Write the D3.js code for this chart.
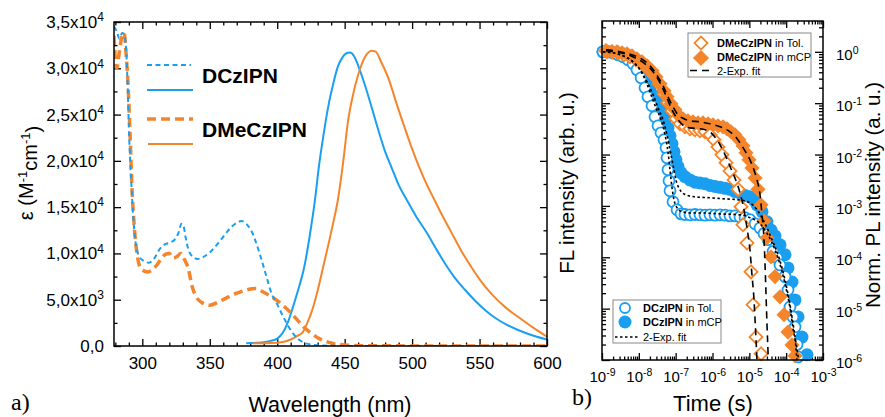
<!DOCTYPE html>
<html>
<head>
<meta charset="utf-8">
<script src="https://cdn.jsdelivr.net/npm/d3@7"></script>
<style>
  body { margin: 0; background: #fff; }
  svg { display: block; font-family: "Liberation Sans", Arial, sans-serif; }
</style>
</head>
<body>
<div id="chart"></div>
<script>
// ---------- panel a) : absorption (dashed) and emission (solid), [wavelength nm, epsilon]
const absDCz = [[279,34500],[281,34000],[283,33200],[285,33800],[286.5,33700],[288,32000],[289,28700],[290,23600],[291.5,18500],[292.5,15800],[294,12500],[296,10400],[298,9600],[301,9200],[305,9000],[309,9500],[313,10500],[317,11000],[321,11200],[324,11500],[327,12300],[329,13200],[330.5,13000],[332,11800],[334,10500],[337,9700],[341,9400],[345,9600],[350,10100],[355,10900],[360,11800],[365,12700],[370,13300],[373.5,13500],[377,13200],[381,12400],[384,11300],[388,9500],[392,7500],[396,5600],[400,4500],[404,3300],[408,2200],[412,1300],[416,700],[420,350],[425,150],[432,50],[450,10],[600,0]];
const absDMe = [[279,33500],[280,31000],[281,30000],[283,31800],[285,33500],[286.5,33800],[288,31500],[289.5,28000],[291,22500],[292.5,16500],[294,13000],[296,10000],[298,8600],[300,8200],[304,8000],[308,8300],[311,8800],[314,9400],[317,9900],[320,10000],[323,9500],[326,9700],[328.5,10000],[331,9400],[334,8400],[337,6400],[340,5300],[344,4700],[350,4400],[357,4800],[364,5300],[370,5700],[376,6000],[384,6200],[390,5800],[395,5400],[400,4900],[405,4300],[410,3600],[415,2800],[420,2000],[425,1400],[430,900],[435,550],[440,320],[447,150],[455,60],[470,20],[600,0]];
const emDCz = [[377,300],[385,350],[390,400],[395,550],[400,800],[404,1400],[408,2600],[411,3900],[415,5800],[420,8500],[424,11800],[428,15800],[431,19500],[434,22500],[438,26000],[441.5,28300],[445,30200],[448,31100],[451,31600],[454,31700],[457,31300],[460,30300],[465,28200],[470,25800],[475,23300],[480,21000],[485,19200],[490,17400],[496,15800],[503,14000],[511,12200],[517,10700],[524,9000],[531,7500],[539,6100],[546,5000],[554,3900],[562,3000],[570,2300],[579,1700],[590,1100],[600,700]];
const emDMe = [[382,300],[390,300],[400,350],[405,450],[410,700],[415,1100],[419,1500],[422,2400],[426,3900],[430,6000],[434,8500],[438,11000],[441.5,13300],[445,15800],[449,20000],[452.6,24400],[456,27000],[460,29300],[465,31200],[470,31900],[473,31800],[477,30700],[483,28700],[488,26400],[494,23800],[500,21300],[505,19400],[511,17400],[516.5,15800],[522,14200],[529,12300],[536,10400],[544,8500],[551,7000],[559,5600],[569,4200],[579,3100],[590,1950],[600,1000]];
const wlMajor = [300,350,400,450,500,550,600];
const epsMajor = [0,5000,10000,15000,20000,25000,30000,35000];

// ---------- panel b) : transient PL, [time s, norm. intensity]
const dczTol = [[1.06e-9,1.0],[1.46e-9,1.0],[1.99e-9,0.956],[2.72e-9,0.874],[3.72e-9,0.799],[5.08e-9,0.699],[6.95e-9,0.584],[8.92e-9,0.446],[1.15e-8,0.312],[1.47e-8,0.199],[1.77e-8,0.133],[2.28e-8,0.0889],[2.75e-8,0.0543],[3.32e-8,0.0362],[4.0e-8,0.0265],[4.82e-8,0.0194],[5.47e-8,0.0135],[5.82e-8,0.00864],[6.19e-8,0.00504],[6.59e-8,0.00308],[7.02e-8,0.00197],[8.47e-8,0.0012],[1.09e-7,0.00084],[1.4e-7,0.0007],[1.79e-7,0.00068],[2.45e-7,0.00067],[3.35e-7,0.00068],[4.58e-7,0.00067],[6.26e-7,0.00066],[8.56e-7,0.00067],[1.17e-6,0.00066],[1.6e-6,0.00067],[2.19e-6,0.00066],[2.99e-6,0.00064],[4.08e-6,0.00064],[5.58e-6,0.00061],[7.63e-6,0.00059],[1.04e-5,0.00054],[1.43e-5,0.00045],[1.95e-5,0.00037],[2.5e-5,0.00029],[3.22e-5,0.00022],[4.4e-5,0.00013],[5.65e-5,9.8e-5],[6.81e-5,7.1e-5],[9.31e-5,4.2e-5],[1.12e-4,2.3e-5],[1.27e-4,1.08e-5],[1.53e-4,6.9e-6],[1.74e-4,4.4e-6],[1.97e-4,2.0e-6],[2.1e-4,1.15e-6]];
const dczMcp = [[1.06e-9,1.0],[1.46e-9,1.0],[1.99e-9,0.956],[2.72e-9,0.914],[3.72e-9,0.836],[5.08e-9,0.764],[6.95e-9,0.668],[9.49e-9,0.534],[1.22e-8,0.408],[1.57e-8,0.285],[2.01e-8,0.199],[2.58e-8,0.139],[3.32e-8,0.0972],[4.26e-8,0.0679],[5.14e-8,0.0474],[6.19e-8,0.0331],[7.02e-8,0.0231],[7.96e-8,0.0162],[9.02e-8,0.0113],[1.02e-7,0.0079],[1.16e-7,0.0058],[1.4e-7,0.0044],[1.79e-7,0.0037],[2.45e-7,0.0032],[3.35e-7,0.0029],[4.58e-7,0.0028],[6.26e-7,0.0027],[8.56e-7,0.0025],[1.17e-6,0.0024],[1.6e-6,0.0023],[2.19e-6,0.0022],[2.99e-6,0.0021],[4.08e-6,0.0019],[5.58e-6,0.0018],[7.63e-6,0.0016],[1.04e-5,0.0015],[1.34e-5,0.0013],[1.62e-5,0.00105],[2.21e-5,0.00077],[3.02e-5,0.00049],[3.88e-5,0.00034],[4.98e-5,0.00026],[6.81e-5,0.000175],[9.31e-5,0.000112],[1.12e-4,6.2e-5],[1.44e-4,3.3e-5],[1.74e-4,1.48e-5],[2.1e-4,6.9e-6],[2.69e-4,2.8e-6],[3.68e-4,1.26e-6]];
const dmeTol = [[1.28e-9,1.05],[1.87e-9,1.0],[2.72e-9,0.956],[3.96e-9,0.874],[5.75e-9,0.799],[8.38e-9,0.699],[1.22e-8,0.584],[1.77e-8,0.467],[2.58e-8,0.341],[3.53e-8,0.238],[4.82e-8,0.152],[6.19e-8,0.102],[7.96e-8,0.071],[1.02e-7,0.0496],[1.31e-7,0.0397],[1.79e-7,0.0347],[2.45e-7,0.0317],[3.35e-7,0.0303],[4.58e-7,0.029],[6.26e-7,0.0277],[8.56e-7,0.0242],[1.1e-6,0.0194],[1.41e-6,0.0141],[1.81e-6,0.0099],[2.33e-6,0.0069],[2.99e-6,0.0048],[3.84e-6,0.0032],[4.93e-6,0.0021],[5.94e-6,0.00096],[6.73e-6,0.00043],[8.65e-6,0.00019],[1.11e-5,5.2e-5],[1.26e-5,1.19e-5],[1.52e-5,2.8e-6],[2.08e-5,1.32e-6]];
const dmeMcp = [[1.37e-9,1.0],[1.87e-9,1.0],[2.55e-9,1.0],[3.49e-9,0.956],[4.77e-9,0.914],[6.53e-9,0.836],[8.92e-9,0.731],[1.22e-8,0.639],[1.67e-8,0.534],[2.28e-8,0.427],[2.92e-8,0.326],[3.76e-8,0.238],[4.82e-8,0.174],[5.82e-8,0.133],[7.47e-8,0.0972],[9.6e-8,0.0743],[1.23e-7,0.0568],[1.58e-7,0.0496],[2.16e-7,0.0454],[2.96e-7,0.0434],[4.04e-7,0.0415],[5.52e-7,0.0413],[7.55e-7,0.0397],[1.03e-6,0.0379],[1.41e-6,0.0362],[1.93e-6,0.0347],[2.48e-6,0.0317],[3.18e-6,0.0277],[4.08e-6,0.0242],[5.25e-6,0.0194],[6.73e-6,0.0148],[8.12e-6,0.0108],[9.8e-6,0.0079],[1.18e-5,0.0055],[1.43e-5,0.0035],[1.72e-5,0.0021],[2.08e-5,0.00105],[2.5e-5,0.00051],[3.02e-5,0.00024],[3.88e-5,0.000102],[4.98e-5,4.2e-5],[6.81e-5,1.7e-5],[8.75e-5,7.6e-6],[1.12e-4,3.5e-6],[1.44e-4,1.97e-6],[1.74e-4,1.21e-6]];
const fitDmeTol = [[1.28e-9,1.05],[2.25e-9,1.0],[4.21e-9,0.914],[7.87e-9,0.764],[1.47e-8,0.584],[2.43e-8,0.408],[3.76e-8,0.249],[5.47e-8,0.139],[7.96e-8,0.0743],[1.16e-7,0.0474],[1.69e-7,0.0362],[2.45e-7,0.0331],[4.58e-7,0.0317],[7.55e-7,0.029],[1.1e-6,0.0231],[1.6e-6,0.0155],[2.33e-6,0.009],[3.18e-6,0.0053],[4.35e-6,0.0031],[5.58e-6,0.0018],[7.17e-6,0.00084],[8.65e-6,0.00037],[1.04e-5,0.00014],[1.18e-5,4.5e-5],[1.34e-5,1.48e-5],[1.43e-5,6.0e-6],[1.52e-5,2.5e-6],[1.62e-5,9e-7]];
const fitDmeMcp = [[1.28e-9,1.09],[2.25e-9,1.05],[4.21e-9,0.956],[7.87e-9,0.836],[1.3e-8,0.699],[2.01e-8,0.534],[3.32e-8,0.326],[4.53e-8,0.218],[6.19e-8,0.133],[8.47e-8,0.0849],[1.16e-7,0.0593],[1.69e-7,0.0496],[2.45e-7,0.0454],[4.58e-7,0.0434],[8.56e-7,0.0397],[1.6e-6,0.0347],[2.99e-6,0.0277],[4.08e-6,0.0231],[5.58e-6,0.0169],[7.63e-6,0.0118],[1.04e-5,0.0079],[1.34e-5,0.005],[1.62e-5,0.0032],[1.95e-5,0.00164],[2.21e-5,0.00067],[2.5e-5,0.00022],[2.67e-5,7.1e-5],[2.84e-5,1.86e-5],[3.02e-5,4.8e-6],[3.22e-5,1.38e-6],[3.3e-5,8e-7]];
const fitDczTol = [[1.06e-9,1.0],[1.99e-9,0.956],[3.72e-9,0.836],[6.95e-9,0.639],[1.08e-8,0.446],[1.57e-8,0.261],[2.14e-8,0.146],[2.92e-8,0.0812],[4.0e-8,0.0474],[5.14e-8,0.0242],[6.19e-8,0.0113],[7.02e-8,0.005],[7.96e-8,0.00225],[9.02e-8,0.00131],[1.09e-7,0.00092],[1.49e-7,0.00077],[2.45e-7,0.00073],[4.58e-7,0.00073],[1.6e-6,0.0007],[5.58e-6,0.00067],[1.04e-5,0.00059],[1.95e-5,0.00045],[3.22e-5,0.00027],[4.98e-5,0.00014],[7.25e-5,6.2e-5],[9.91e-5,2.5e-5],[1.27e-4,1.04e-5],[1.53e-4,4.2e-6],[1.85e-4,1.7e-6],[1.97e-4,9e-7]];
const fitDczMcp = [[1.06e-9,1.0],[1.99e-9,0.956],[3.72e-9,0.836],[6.95e-9,0.639],[1.08e-8,0.446],[1.67e-8,0.261],[2.43e-8,0.146],[3.32e-8,0.0812],[4.53e-8,0.0474],[5.82e-8,0.0242],[7.02e-8,0.0124],[8.47e-8,0.0063],[1.02e-7,0.0032],[1.31e-7,0.00206],[1.91e-7,0.00164],[3.35e-7,0.0015],[8.56e-7,0.00144],[2.19e-6,0.00137],[5.58e-6,0.00131],[1.04e-5,0.00115],[1.62e-5,0.00084],[2.67e-5,0.00045],[4.13e-5,0.00022],[6.4e-5,9.8e-5],[9.31e-5,3.6e-5],[1.27e-4,1.19e-5],[1.63e-4,3.9e-6],[1.97e-4,1.6e-6],[2.23e-4,9e-7]];
const timeDecades = [-9,-8,-7,-6,-5,-4,-3];
const intDecades = [-6,-5,-4,-3,-2,-1,0];

const blue = "#1a9ff0", orange = "#f5852b";

const svg = d3.select("#chart").append("svg")
  .attr("width", 885).attr("height", 417);
svg.append("rect").attr("width", 885).attr("height", 417).attr("fill", "#fff");

// helper: ticks styled like the original (inward, black)
function styleAxis(g, size) {
  g.select(".domain").remove();
  g.selectAll(".tick line").attr("stroke", "#000").attr("stroke-width", 1.3);
  g.attr("font-family", null).attr("font-size", size || 17).attr("fill", "#000");
  g.selectAll("text").attr("fill", "#000");
}
function supLabel(base, exp, supSize) {
  return function() {
    const t = d3.select(this).text(null);
    t.append("tspan").text(base);
    if (exp !== null) t.append("tspan").attr("dy", "-0.55em").attr("font-size", supSize).text(exp);
  };
}

// ================= panel a =================
const xA = d3.scaleLinear().domain([279, 600]).range([114, 547]);
const yA = d3.scaleLinear().domain([0, 35000]).range([346, 22]);
const wlMinor = d3.range(280, 601, 10).filter(v => v % 50 !== 0);
const epsMinor = d3.range(2500, 35000, 5000);

svg.append("g").attr("transform", "translate(0,346)")
  .call(d3.axisBottom(xA).tickValues(wlMajor).tickSize(-7).tickPadding(11).tickFormat(d3.format("d")))
  .call(g => styleAxis(g, 17));
svg.append("g").attr("transform", "translate(0,346)")
  .call(d3.axisBottom(xA).tickValues(wlMinor).tickSize(-3.5).tickFormat(""))
  .call(g => styleAxis(g));
svg.append("g").attr("transform", "translate(0,22)")
  .call(d3.axisTop(xA).tickValues(wlMajor).tickSize(-7).tickFormat(""))
  .call(g => styleAxis(g));
svg.append("g").attr("transform", "translate(0,22)")
  .call(d3.axisTop(xA).tickValues(wlMinor).tickSize(-3.5).tickFormat(""))
  .call(g => styleAxis(g));

svg.append("g").attr("transform", "translate(114,0)")
  .call(d3.axisLeft(yA).tickValues(epsMajor).tickSize(-7).tickPadding(10))
  .call(g => styleAxis(g, 17))
  .call(g => g.selectAll(".tick text").each(function(d) {
    if (d === 0) { d3.select(this).text("0,0"); return; }
    const e = Math.floor(Math.log10(d));
    const m = (d / Math.pow(10, e)).toFixed(1).replace(".", ",");
    supLabel(m + "x10", String(e), 12).call(this);
  }));
svg.append("g").attr("transform", "translate(114,0)")
  .call(d3.axisLeft(yA).tickValues(epsMinor).tickSize(-3.5).tickFormat(""))
  .call(g => styleAxis(g));
svg.append("g").attr("transform", "translate(547,0)")
  .call(d3.axisRight(yA).tickValues(epsMajor).tickSize(-7).tickFormat(""))
  .call(g => styleAxis(g));
svg.append("g").attr("transform", "translate(547,0)")
  .call(d3.axisRight(yA).tickValues(epsMinor).tickSize(-3.5).tickFormat(""))
  .call(g => styleAxis(g));

svg.append("clipPath").attr("id", "clipA").append("rect")
  .attr("x", 114).attr("y", 22).attr("width", 433).attr("height", 324);

const lineA = d3.line().x(d => xA(d[0])).y(d => yA(d[1])).curve(d3.curveMonotoneX);
const gA = svg.append("g").attr("clip-path", "url(#clipA)").attr("fill", "none");
gA.append("path").attr("d", lineA(emDCz)).attr("stroke", blue).attr("stroke-width", 2);
gA.append("path").attr("d", lineA(emDMe)).attr("stroke", orange).attr("stroke-width", 2);
gA.append("path").attr("d", lineA(absDMe)).attr("stroke", orange).attr("stroke-width", 3.5).attr("stroke-dasharray", "9,5");
gA.append("path").attr("d", lineA(absDCz)).attr("stroke", blue).attr("stroke-width", 2).attr("stroke-dasharray", "5,3.5");

svg.append("rect").attr("x", 114).attr("y", 22).attr("width", 433).attr("height", 324)
  .attr("fill", "none").attr("stroke", "#000").attr("stroke-width", 1.5);

// legend a
const legA = svg.append("g");
legA.append("line").attr("x1", 147).attr("x2", 191).attr("y1", 65).attr("y2", 65)
  .attr("stroke", blue).attr("stroke-width", 2).attr("stroke-dasharray", "5,3.5");
legA.append("line").attr("x1", 147).attr("x2", 193).attr("y1", 90).attr("y2", 90)
  .attr("stroke", blue).attr("stroke-width", 2.2);
legA.append("line").attr("x1", 147).attr("x2", 193).attr("y1", 119).attr("y2", 119)
  .attr("stroke", orange).attr("stroke-width", 3.5).attr("stroke-dasharray", "9,5");
legA.append("line").attr("x1", 148).attr("x2", 193).attr("y1", 144).attr("y2", 144)
  .attr("stroke", orange).attr("stroke-width", 2.2);
legA.append("text").attr("x", 202).attr("y", 83).attr("font-size", 21).attr("font-weight", "bold").text("DCzIPN");
legA.append("text").attr("x", 202).attr("y", 137).attr("font-size", 21).attr("font-weight", "bold").text("DMeCzIPN");

// titles a
const epsTitle = svg.append("text").attr("transform", "translate(33,173) rotate(-90)")
  .attr("text-anchor", "middle").attr("font-size", 20);
epsTitle.append("tspan").text("ε (M");
epsTitle.append("tspan").attr("dy", "-0.5em").attr("font-size", 13).text("-1");
epsTitle.append("tspan").attr("dy", "0.5em").text("cm");
epsTitle.append("tspan").attr("dy", "-0.5em").attr("font-size", 13).text("-1");
epsTitle.append("tspan").attr("dy", "0.5em").text(")");
svg.append("text").attr("x", 330).attr("y", 412).attr("text-anchor", "middle")
  .attr("font-size", 21.5).text("Wavelength (nm)");
svg.append("text").attr("x", 11).attr("y", 410).attr("font-family", "'Liberation Serif', 'Times New Roman', serif")
  .attr("font-size", 24).text("a)");

// ================= panel b =================
const xB = d3.scaleLog().domain([1e-9, 1e-3]).range([602, 823]);
const yB = d3.scaleLog().domain([1e-6, Math.pow(10, 0.6)]).range([360, 21]);
const tMajor = timeDecades.map(e => Math.pow(10, e));
const tMinor = timeDecades.slice(0, -1).flatMap(e => d3.range(2, 10).map(k => +(k + "e" + e)));
const iMajor = intDecades.map(e => Math.pow(10, e));
const iMinor = intDecades.flatMap(e => d3.range(2, 10).map(k => +(k + "e" + e))).filter(v => v < yB.domain()[1]);

svg.append("g").attr("transform", "translate(0,360)")
  .call(d3.axisBottom(xB).tickValues(tMajor).tickSize(-7).tickPadding(11))
  .call(g => styleAxis(g, 15))
  .call(g => g.selectAll(".tick text").each(function(d, i) { supLabel("10", String(timeDecades[i]), 10.5).call(this); }));
svg.append("g").attr("transform", "translate(0,360)")
  .call(d3.axisBottom(xB).tickValues(tMinor).tickSize(-3.5).tickFormat(""))
  .call(g => styleAxis(g));
svg.append("g").attr("transform", "translate(0,21)")
  .call(d3.axisTop(xB).tickValues(tMajor).tickSize(-7).tickFormat(""))
  .call(g => styleAxis(g));
svg.append("g").attr("transform", "translate(0,21)")
  .call(d3.axisTop(xB).tickValues(tMinor).tickSize(-3.5).tickFormat(""))
  .call(g => styleAxis(g));
svg.append("g").attr("transform", "translate(602,0)")
  .call(d3.axisLeft(yB).tickValues(iMajor).tickSize(-8).tickFormat(""))
  .call(g => styleAxis(g));
svg.append("g").attr("transform", "translate(602,0)")
  .call(d3.axisLeft(yB).tickValues(iMinor).tickSize(-4).tickFormat(""))
  .call(g => styleAxis(g));
svg.append("g").attr("transform", "translate(823,0)")
  .call(d3.axisRight(yB).tickValues(iMajor).tickSize(-8).tickPadding(13))
  .call(g => styleAxis(g, 15))
  .call(g => g.selectAll(".tick text").attr("dy", "0.5em")
    .each(function(d, i) { supLabel("10", String(intDecades[i]), 10.5).call(this); }));
svg.append("g").attr("transform", "translate(823,0)")
  .call(d3.axisRight(yB).tickValues(iMinor).tickSize(-4).tickFormat(""))
  .call(g => styleAxis(g));

svg.append("clipPath").attr("id", "clipB").append("rect")
  .attr("x", 602).attr("y", 21).attr("width", 221).attr("height", 339);

const diamond = s => d3.symbol().type(d3.symbolSquare).size(s)();
const gB = svg.append("g");
gB.selectAll(".dczMcp").data(dczMcp).join("circle")
  .attr("cx", d => xB(d[0])).attr("cy", d => yB(d[1])).attr("r", 6.5).attr("fill", blue);
gB.selectAll(".dczTol").data(dczTol).join("circle")
  .attr("cx", d => xB(d[0])).attr("cy", d => yB(d[1])).attr("r", 5.5)
  .attr("fill", "#fff").attr("stroke", blue).attr("stroke-width", 1.8);
gB.selectAll(".dmeTol").data(dmeTol).join("path")
  .attr("d", diamond(85)).attr("transform", d => `translate(${xB(d[0])},${yB(d[1])}) rotate(45)`)
  .attr("fill", "#fff").attr("stroke", orange).attr("stroke-width", 1.8);
gB.selectAll(".dmeMcp").data(dmeMcp).join("path")
  .attr("d", diamond(115)).attr("transform", d => `translate(${xB(d[0])},${yB(d[1])}) rotate(45)`)
  .attr("fill", orange);

const lineB = d3.line().x(d => xB(d[0])).y(d => yB(d[1])).curve(d3.curveMonotoneX);
const gFit = svg.append("g").attr("clip-path", "url(#clipB)").attr("fill", "none").attr("stroke", "#000").attr("stroke-width", 1.6);
gFit.append("path").attr("d", lineB(fitDczTol)).attr("stroke-dasharray", "2.5,2.5");
gFit.append("path").attr("d", lineB(fitDczMcp)).attr("stroke-dasharray", "2.5,2.5");
gFit.append("path").attr("d", lineB(fitDmeTol)).attr("stroke-dasharray", "7,5");
gFit.append("path").attr("d", lineB(fitDmeMcp)).attr("stroke-dasharray", "7,5");

svg.append("rect").attr("x", 602).attr("y", 21).attr("width", 221).attr("height", 339)
  .attr("fill", "none").attr("stroke", "#000").attr("stroke-width", 1.5);

// legend b, top right (DMeCzIPN)
const legT = svg.append("g").attr("font-size", 11);
legT.append("rect").attr("x", 688).attr("y", 33).attr("width", 123).attr("height", 44)
  .attr("fill", "#fff").attr("stroke", "#888").attr("stroke-width", 1);
legT.append("path").attr("d", diamond(85)).attr("transform", "translate(701,43) rotate(45)")
  .attr("fill", "#fff").attr("stroke", orange).attr("stroke-width", 1.8);
legT.append("path").attr("d", diamond(130)).attr("transform", "translate(701,58) rotate(45)").attr("fill", orange);
legT.append("line").attr("x1", 690).attr("x2", 713).attr("y1", 70.5).attr("y2", 70.5)
  .attr("stroke", "#000").attr("stroke-width", 1.6).attr("stroke-dasharray", "7,5");
const tT1 = legT.append("text").attr("x", 717).attr("y", 46.5);
tT1.append("tspan").attr("font-weight", "bold").text("DMeCzIPN");
tT1.append("tspan").text(" in Tol.");
const tT2 = legT.append("text").attr("x", 717).attr("y", 61);
tT2.append("tspan").attr("font-weight", "bold").text("DMeCzIPN");
tT2.append("tspan").text(" in mCP");
legT.append("text").attr("x", 717).attr("y", 74.5).text("2-Exp. fit");

// legend b, bottom left (DCzIPN)
const legB = svg.append("g").attr("font-size", 11);
legB.append("rect").attr("x", 613).attr("y", 300).attr("width", 108).attr("height", 43)
  .attr("fill", "#fff").attr("stroke", "#888").attr("stroke-width", 1);
legB.append("circle").attr("cx", 625).attr("cy", 308).attr("r", 5)
  .attr("fill", "#fff").attr("stroke", blue).attr("stroke-width", 1.8);
legB.append("circle").attr("cx", 625).attr("cy", 322).attr("r", 6.5).attr("fill", blue);
legB.append("line").attr("x1", 615).attr("x2", 638).attr("y1", 337).attr("y2", 337)
  .attr("stroke", "#000").attr("stroke-width", 1.6).attr("stroke-dasharray", "2.5,2.5");
const tB1 = legB.append("text").attr("x", 643).attr("y", 312);
tB1.append("tspan").attr("font-weight", "bold").text("DCzIPN");
tB1.append("tspan").text(" in Tol.");
const tB2 = legB.append("text").attr("x", 643).attr("y", 326);
tB2.append("tspan").attr("font-weight", "bold").text("DCzIPN");
tB2.append("tspan").text(" in mCP");
legB.append("text").attr("x", 643).attr("y", 341).text("2-Exp. fit");

// titles b
svg.append("text").attr("transform", "translate(574,183) rotate(-90)")
  .attr("text-anchor", "middle").attr("font-size", 20.5).text("FL intensity (arb. u.)");
svg.append("text").attr("transform", "translate(880,195) rotate(-90)")
  .attr("text-anchor", "middle").attr("font-size", 20.5).text("Norm. PL intensity (a. u.)");
svg.append("text").attr("x", 713).attr("y", 411).attr("text-anchor", "middle")
  .attr("font-size", 22).text("Time (s)");
svg.append("text").attr("x", 572).attr("y", 405).attr("font-family", "'Liberation Serif', 'Times New Roman', serif")
  .attr("font-size", 24).text("b)");
</script>
</body>
</html>
